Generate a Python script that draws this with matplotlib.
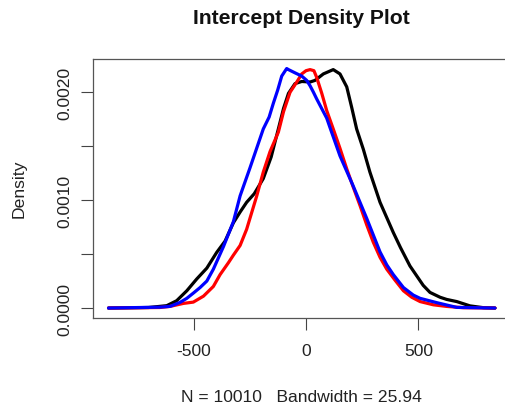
import matplotlib
matplotlib.use("Agg")
import matplotlib.pyplot as plt

plt.rcParams['font.family'] = ['Liberation Sans', 'DejaVu Sans']

# density curves (x = intercept, y = density)
black_x = [-878, -700, -619, -575, -530, -486, -441, -397, -360, -323, -293, -264, -230,
           -190, -155, -123, -100, -78, -49, -19, 18, 40, 77, 121, 151, 181, 203, 225, 255,
           284, 329, 388, 420, 462, 521, 551, 596, 625, 670, 729, 790, 840]
black_y = [0.0, 0.000005, 0.000022, 0.000068, 0.00016, 0.000269, 0.00037, 0.000516, 0.00062,
           0.00079, 0.00089, 0.00098, 0.00106, 0.0012, 0.0014, 0.00166, 0.00185, 0.00199,
           0.00208, 0.00210, 0.002095, 0.00211, 0.00217, 0.00221, 0.00217, 0.00205, 0.00186,
           0.00166, 0.00147, 0.00126, 0.00098, 0.0007, 0.00056, 0.00039, 0.00021, 0.000145,
           0.0001, 0.00008, 0.00006, 0.00002, 0.000003, 0.0]

red_x = [-878, -650, -604, -545, -501, -456, -412, -382, -345, -323, -293, -264, -219, -190,
         -160, -123, -100, -71, -41, -19, 0, 18, 35, 47, 70, 92, 121, 151, 181, 210, 240, 270,
         299, 329, 359, 395, 433, 470, 507, 566, 625, 700, 840]
red_y = [0.0, 0.000005, 0.0000155, 0.000043, 0.000055, 0.00011, 0.0002, 0.00031, 0.00042,
         0.00049, 0.00058, 0.00073, 0.00104, 0.00126, 0.00145, 0.00163, 0.00182, 0.002,
         0.002095, 0.00217, 0.0022, 0.00221, 0.0022, 0.00214, 0.00199, 0.00183, 0.00166,
         0.00148, 0.00129, 0.00112, 0.00095, 0.00077, 0.00061, 0.00047, 0.00036, 0.00026,
         0.00016, 0.0001, 0.00006, 0.00003, 0.000015, 0.000003, 0.0]

blue_x = [-878, -650, -604, -560, -530, -500, -471, -441, -412, -382, -367, -323, -293, -249,
          -190, -164, -145, -126, -108, -86, -78, -49, -19, 3, 18, 33, 47, 62, 77, 92, 107,
          151, 210, 270, 329, 359, 388, 433, 477, 507, 581, 670, 840]
blue_y = [0.0, 0.000008, 0.0000155, 0.0000525, 0.00009, 0.00014, 0.00019, 0.00025, 0.00036,
          0.0005, 0.00057, 0.0008, 0.00104, 0.0013, 0.00166, 0.00177, 0.0019, 0.00202,
          0.00215, 0.00222, 0.00221, 0.00218, 0.00215, 0.00211, 0.00206, 0.00200, 0.00194,
          0.00188, 0.00182, 0.00176, 0.00167, 0.00141, 0.00113, 0.00083, 0.00052, 0.0004,
          0.00031, 0.00019, 0.00012, 0.00009, 0.00005, 0.000006, 0.0]

x_ticks = [-500, 0, 500]
y_ticks = [0.0, 0.0005, 0.0010, 0.0015, 0.0020]
y_labels = ["0.0000", "", "0.0010", "", "0.0020"]

fig = plt.figure(figsize=(5.06, 4.14), dpi=100)
ax = fig.add_axes([93 / 506, 95.4 / 414, 417.5 / 506, 258.2 / 414])

for xs, ys, c in [(black_x, black_y, "black"), (red_x, red_y, "#ff0000"),
                  (blue_x, blue_y, "#0000ff")]:
    ax.plot(xs, ys, color=c, lw=2.3, solid_joinstyle="round", solid_capstyle="round")

ax.set_xlim(-947, 909)
ax.set_ylim(-0.0000886, 0.0023046)

ax.set_xticks(x_ticks)
ax.set_xticklabels([str(t) for t in x_ticks])
ax.set_yticks(y_ticks)
ax.set_yticklabels(y_labels, rotation=90, va="center")
ax.tick_params(axis="both", length=8.5, width=0.8, color="#444444",
               labelsize=12.6, labelcolor="#222222")
ax.tick_params(axis="x", pad=10)
ax.tick_params(axis="y", pad=6)

for s in ax.spines.values():
    s.set_color("#555555")
    s.set_linewidth(0.9)

fig.text(301.75 / 506, 1 - 18 / 414, "Intercept Density Plot", ha="center", va="center",
         fontsize=15.2, fontweight="bold", color="#111111")
fig.text(301.75 / 506, 1 - 398 / 414, "N = 10010   Bandwidth = 25.94", ha="center",
         va="center", fontsize=12.6, color="#222222")
fig.text(19 / 506, 1 - 189 / 414, "Density", ha="center", va="center", rotation=90,
         fontsize=12.6, color="#222222")

fig.savefig("out.png", dpi=100)
